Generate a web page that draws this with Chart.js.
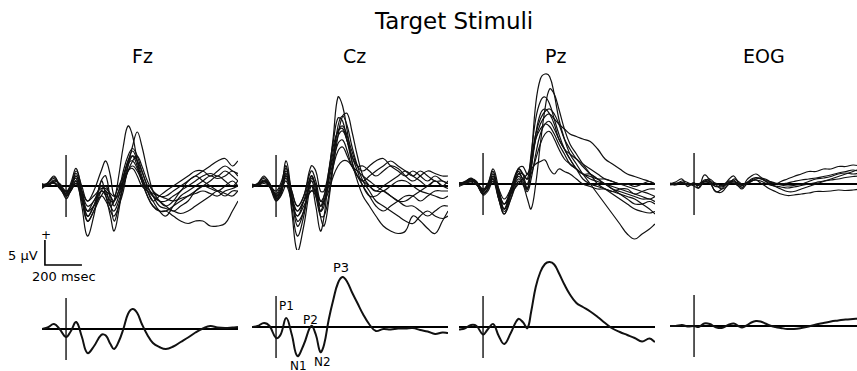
<!DOCTYPE html>
<html>
<head>
<meta charset="utf-8">
<script src="https://cdn.jsdelivr.net/npm/chart.js@4"></script>
<style>
  body { margin: 0; width: 857px; height: 371px; overflow: hidden; background: #fff; position: relative;
         font-family: "DejaVu Sans", sans-serif; color: #000; }
  canvas { position: absolute; }
  .lbl { position: absolute; white-space: nowrap; line-height: 1; }
</style>
</head>
<body>

<div class="lbl" style="left:375px;top:10px;font-size:23px">Target Stimuli</div>
<div class="lbl" style="left:132px;top:47px;font-size:19px">Fz</div>
<div class="lbl" style="left:343px;top:47px;font-size:19px">Cz</div>
<div class="lbl" style="left:545px;top:47px;font-size:19px">Pz</div>
<div class="lbl" style="left:743px;top:47px;font-size:19px">EOG</div>

<div class="lbl" style="left:41px;top:229px;font-size:12px">+</div>
<div class="lbl" style="left:8px;top:249px;font-size:13px">5 &micro;V</div>
<div class="lbl" style="left:32px;top:270px;font-size:13px">200 msec</div>

<div class="lbl" style="left:279px;top:300px;font-size:12px">P1</div>
<div class="lbl" style="left:290px;top:360px;font-size:12px">N1</div>
<div class="lbl" style="left:303px;top:314px;font-size:12px">P2</div>
<div class="lbl" style="left:314px;top:356px;font-size:12px">N2</div>
<div class="lbl" style="left:333px;top:261px;font-size:13px">P3</div>

<script>
// time points (msec), stimulus at 0
const times = [-130,-100,-65,-35,0,25,55,85,115,150,190,215,240,260,285,310,335,360,385,410,440,470,505,540,580,620,660,700,740,780,820,860,900,930]

// grand averages (uV, positive up)
const fzAvg = [0,0.3,1,0,-1.6,-0.5,1.4,-1.5,-4.8,-3.5,-1.2,-1.3,-3,-4,-2.5,0,3,4,3.2,1,-1.2,-2.8,-3.6,-4,-3.5,-2.6,-1.7,-0.7,0.1,0.6,0.3,0.2,0.3,0.4]
const czAvg = [0,0.2,0.8,0.2,-2.2,-1.5,1.8,-1.5,-5.8,-3.5,0.2,-1.5,-5,-3.5,1.5,5.5,8.8,10,9,7,4.8,2.6,0.5,-0.8,-0.4,-0.5,-0.3,-0.3,-0.2,-0.6,-0.9,-1.4,-1.1,-1.2]
const pzAvg = [-0.5,-0.3,0.4,0.2,-1.5,-0.5,0.6,-1.8,-3.4,-1.2,1.6,1,-0.2,3,8,11,12.6,13,12.5,10.8,8.5,6.5,4.8,4,3.1,2,0.8,-0.3,-1,-1.6,-2.2,-2.9,-2.3,-3]
const eogAvg = [0,0,0.2,-0.1,0,-0.2,0.5,0.4,-0.2,-0.4,0.3,0.5,0,-0.3,0.1,0.7,1,0.9,0.5,0.1,-0.2,-0.4,-0.6,-0.6,-0.4,-0.1,0.3,0.6,0.9,1.1,1.3,1.4,1.5,1.5]

// individual subjects
const fzSubjects = [
  [0,0.5,1.5,0,-2,-0.5,2,-2,-6,-4,-1,-2,-4,-3,2,8,12,10,5,1,-2,-4,-5,-5,-4,-3,-2,-1,0,1,2,1,0,1],
  [0.5,0,1,0.5,-1,0,2.5,-1,-5,-4,-2,-3,-5,-6,-4,-1,4,8,10.8,8,3,-1,-3,-4,-3,-1,0,1,2,2.5,2,3,2,1],
  [-0.5,0.5,2,0,-2,-1,1,-4,-10,-6,1,-2,-6,-9,-5,1,5,6,4,1,-2,-4,-5,-5,-6,-7,-7.5,-7,-7,-8,-8,-7.5,-5,-3],
  [0,0.2,0.8,-0.5,-1.5,0,3,0,-3,-1,3,5,2,-2,-2,1,4,6,5,3,0,-2,-3,-3,-2,-1,1,2,3,4,5,5.5,4,5],
  [0.3,0,1.2,0.3,-2.5,-1,1,-2,-7,-5,-2,-1,-4,-5,-3,0,3,4,3,1,-1,-3,-5,-6,-4,-2,-1,0,1,2,1.5,2,3,2],
  [-0.3,0.4,0.5,-0.2,-1,-0.5,2,-1,-4,-3,0,-1,-2,-4,-2,2,5,7,5,2,-1,-3,-2,-1,0,1,2,3,3,2,3,4,3,2.5],
  [0.2,0.1,1,0.4,-1.8,0,1.5,-2.5,-5,-3,-1,-1.5,-3,-3,-1,1,3,3.5,2,0,-1,-2,-3,-4,-5,-4,-3,-1,0,-0.5,-1,0,1,0],
  [0,0.3,0.7,-0.3,-1.2,-0.8,0.5,-1,-3,-2,-0.5,-0.5,-1.5,-2,0,2,4.5,5,3.5,1.5,-0.5,-1.5,-2,-2.5,-3,-2.5,-2,-1.5,-1,-1.5,-2,-1,-0.5,0],
  [0.2,0.6,1.8,0.2,-1.5,0.5,3.5,-1,-6,-4,1,2,-3,-7,-4,0,3,5,6,4,1,-1,-2,-2,-1,0,1,2,1,0,-1,-2,-1,-1],
  [-0.2,0,0.6,-0.4,-2,-1,0.5,-3,-7,-5,-1,0,-2,-3,-1,3,6,7.5,6,3,0,-2,-4,-4.5,-5,-5.5,-5,-4,-3,-2,-1,-1.5,-2,-1]
]
const czSubjects = [
  [0,0.5,1.5,0,-3,-1,4,-5,-13,-8,0,-4,-9,-6,2,10,17.8,16,11,5,1,-2,-4,-6,-8,-9,-9.5,-9,-6,-7,-8.5,-9.5,-7,-5],
  [0.3,0,1,0.5,-2,-1,3,-2,-7,-5,1,-2,-6,-6,-2,4,10,14,14.5,11,6,2,0,-1,0,1,2,3,2,1,0,1,0,-0.5],
  [-0.3,0.4,2,0,-2.5,-1,5,-2,-8,-5,2,-1,-5,-4,3,9,13.6,13,9,5,2,1,2,3,4,5,4,3,2,3,2,1,1,0.5],
  [0,0.2,0.8,0.3,-1.5,0,2,-3,-6,-3,2,0,-4,-3,1,5,8.5,9.2,7,4,2,0,-2,-4,-5,-4,-3,-2,-2,-3,-2,-1,-1,-1],
  [0.2,0,1,-0.2,-2,-1,1,-3,-6,-4,-1,-2,-5,-3,0,4,7,7.8,6,4,3,2,1,0,-1,-2,-3,-3,-2,-1,0,1,0,1],
  [0,0.3,1.2,0.2,-2.2,-1.5,2,-1,-4,-2,3,1,-3,-2,2,7,11,12,10,7,4,3,4,5,5.5,4,3,2,3,2,1,2,1,0.5],
  [0.4,0.2,0.5,0,-1.8,-0.5,1.5,-2,-5,-3,0,-1.5,-4,-2,2,6,10,11,9,6,3,0,-2,-2,-1,-2,-3,-4,-4,-5,-6,-5,-4,-4],
  [-0.2,0.2,0.8,0.4,-2.5,-2,0,-3,-5,-3,-1,-1,-3,-3,-1,2,4,5,5,4,2,1,0,-1,-1,0,1,1,0,-1,-1.5,-2,-2.5,-2],
  [0,0.4,1.8,0.6,-2.8,-2,2.5,-4,-10,-6,1.5,0,-6,-8,-3,5,12,14,12,8,4,1,-1,-3,-4,-5,-6,-7,-7.5,-6,-5,-6,-6.5,-6],
  [0.1,0.3,1,0.1,-1,0.5,3.5,-1,-4,-2,4,3,-1,-1,3,8,11,11.5,9,6,4,4,3,2,3,4,3.5,2,1,2,3,2.5,2,2]
]
const pzSubjects = [
  [0,0.5,1,0,-2,-1,2,-3,-6,-2,3,2,-1,5,16,21,22,21.5,18,13,9,6,4,2,0,-2,-4,-6,-8,-10,-11,-10,-9,-8],
  [-0.5,0,0.5,0.3,-1.5,0,1,-2,-4,-2,1,0,-3,-5,0,8,15,19,18,15,11,8,6,4,2,0,-1,-2,-3,-4,-5,-5.5,-5.8,-5.5],
  [0,0.2,0.8,0,-1,0,2.5,-2,-5,-1,3,2,1,6,13,16.5,17.4,16,13,10,7,5,3,2,1,0.5,0,-1,-1.5,-2,-2.5,-3,-3,-3.5],
  [0.3,0,1,0.5,-1.8,-1,1,-3,-6,-3,2,1,-1,3,9,12,13.5,14,13,12,11,10,9.5,9,8.5,7,5,4,3,2,1.5,1,0.5,0],
  [-0.3,0.3,0.4,-0.2,-1.2,-0.5,1.5,-1,-3,-1,2,2,1,2,5,8,10,10.5,9,7,5,4,3,2,1.5,1,1,0.5,0,0,-0.5,0,0.5,0],
  [0,0.3,1,0.3,-1.5,-0.5,0.5,-2,-4,-2,0,1,2,3,4,4.5,4.8,3,2,3,2.5,2,1,0,-0.5,-1,-1,-1.5,-1,-1,-2,-1.5,-1,-1],
  [0.2,0,0.8,0.3,-1,-0.5,1.5,-1.5,-4,-1,2.5,1,0,4,9,11,12,11.5,10,8,6,4,3,2,2,1,0,-1,-2,-3,-4,-4,-3.5,-4],
  [0,0.3,1.2,0,-2,-1,1,-2.5,-5,-1.5,1.5,0.5,-1,3,10,14,15,14,12,9,7,5,3,1,0,-0.5,-1,-1.5,-2,-2.5,-3,-4,-5,-6],
  [0,0.2,0.6,0.4,-1.4,-0.2,3,-1,-5,-2,3,3.5,2,5,10,13,14.5,15,14,12,9,7,5,3.5,2,1,0,-0.5,-1,-1.5,-2,-2.5,-3,-2.5],
  [0.2,0.4,1,0.1,-2.2,-1.5,0.5,-3,-5.5,-3,0.5,0,-1.5,1,6,10,12,12.5,11,9,7,6,5,4,3,2,1,0.5,0,-0.5,-1,-1.5,-2,-2.5]
]
const eogSubjects = [
  [0,0.4,1,-0.5,0.3,-0.8,1.8,0.8,-1.5,-1,1,1.6,0.2,-0.8,0.8,1.6,2,1.4,0.6,0,-0.5,-1,-1.5,-1.5,-1,-0.5,0,0.5,1,1.5,2,2.5,3,3],
  [0,-0.2,0.3,0,0,0,0.5,1,0,-1,0,1,0.5,0,0,0.5,1,1.2,1,0.5,0,0.5,1,1.5,2,2.5,2.5,3,3,3.5,3.5,3.8,3.6,3.5],
  [0.2,0,0.6,0.3,-0.4,-0.8,0.4,0.2,-1.4,-1.6,0.2,0.8,-0.4,-1,0,0.6,0.8,0.2,-0.4,-1,-1.5,-2,-2.3,-2.2,-2,-1.8,-1.5,-1.5,-1.4,-1.2,-1.3,-1.2,-1,-0.8],
  [0,0.1,0.2,0,0.1,-0.3,0.8,0.6,-0.5,-0.3,0.6,0.4,0.2,-0.2,0.3,0.8,1.2,1,0.8,0.5,0.2,0,0.2,0.5,0.8,1,1.2,1.5,1.8,2.2,2.5,2.8,2.5,2.6],
  [-0.2,0,0.3,-0.2,0,0,0.4,0.2,-0.4,-0.6,0.2,0.2,-0.4,-0.4,0.2,0.6,0.8,0.6,0.2,-0.2,-0.4,-0.6,-0.8,-0.6,-0.3,0,0.3,0.6,0.8,1,1.3,1.5,1.6,1.5],
  [0,0.2,0.1,0,-0.2,0,0.6,0.5,0.2,-0.4,0.4,0.6,0,-0.3,0.2,1,1.3,1.1,0.6,0.3,0.1,-0.2,-0.4,-0.3,0,0.5,1,1.2,1.5,2,2.2,2,2.2,2.4]
]

// calibration bar
const barMs = 200
const barUv = 5

const tMin = -130, tMax = 930
const pxPerMs = 0.185, pxPerUv = 5

function toPoints(vals) {
  return vals.map((v, i) => ({ x: times[i], y: v }))
}

function makePanel(left, zeroY, yMax, yMin, traces, lw) {
  var c = document.createElement("canvas")
  var w = Math.round((tMax - tMin) * pxPerMs)
  var h = Math.round((yMax - yMin) * pxPerUv)
  c.width = w
  c.height = h
  c.style.left = left + "px"
  c.style.top = (zeroY - yMax * pxPerUv) + "px"
  document.body.appendChild(c)

  var sets = traces.map(tr => ({
    data: toPoints(tr), borderColor: "#111", borderWidth: lw, tension: 0.4, pointRadius: 0
  }))
  sets.push({ data: [{ x: tMin, y: 0 }, { x: tMax, y: 0 }], borderColor: "#000", borderWidth: 1.8, tension: 0, pointRadius: 0 })
  sets.push({ data: [{ x: 0, y: 6.2 }, { x: 0, y: -6.2 }], borderColor: "#000", borderWidth: 1.3, tension: 0, pointRadius: 0 })

  new Chart(c.getContext("2d"), {
    type: "line",
    data: { datasets: sets },
    options: {
      responsive: false, animation: false, devicePixelRatio: 1,
      layout: { padding: 0 },
      plugins: { legend: { display: false }, tooltip: { enabled: false } },
      scales: {
        x: { type: "linear", min: tMin, max: tMax, display: false },
        y: { min: yMin, max: yMax, display: false }
      }
    }
  })
}

// top row: single subjects
makePanel(42, 186, 25.2, -12.8, fzSubjects, 1.2)
makePanel(252, 186, 25.2, -12.8, czSubjects, 1.2)
makePanel(459, 184, 25.2, -12.8, pzSubjects, 1.2)
makePanel(670, 184, 25.2, -12.8, eogSubjects, 1.2)

// bottom row: grand average
makePanel(42, 329, 14.4, -8.8, [fzAvg], 2)
makePanel(252, 327, 14.4, -8.8, [czAvg], 2)
makePanel(459, 327, 14.4, -8.8, [pzAvg], 2)
makePanel(670, 326, 14.4, -8.8, [eogAvg], 2)

// calibration bar
var cb = document.createElement("canvas")
cb.width = 44
cb.height = 34
cb.style.left = "44px"
cb.style.top = "236px"
document.body.appendChild(cb)
new Chart(cb.getContext("2d"), {
  type: "line",
  data: { datasets: [{
    data: [{ x: 0, y: barUv }, { x: 0, y: 0 }, { x: barMs, y: 0 }],
    borderColor: "#000", borderWidth: 1.6, tension: 0, pointRadius: 0
  }] },
  options: {
    responsive: false, animation: false, devicePixelRatio: 1,
    layout: { padding: 0 },
    plugins: { legend: { display: false }, tooltip: { enabled: false } },
    scales: {
      x: { type: "linear", min: -5, max: 44 / pxPerMs - 5, display: false },
      y: { min: -1, max: 34 / pxPerUv - 1, display: false }
    }
  }
})
</script>
</body>
</html>
